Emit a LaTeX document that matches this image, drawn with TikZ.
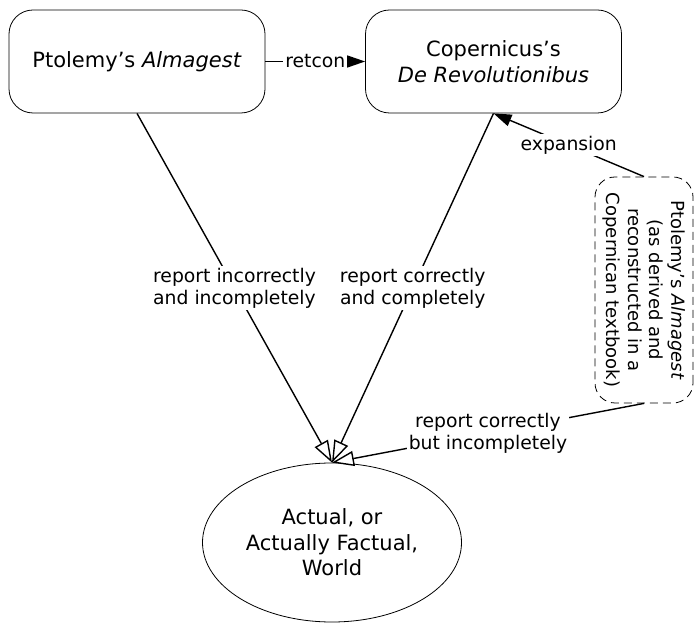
\documentclass[tikz,border=0pt]{standalone}
\usepackage{fontspec}
\setmainfont{DejaVu Sans}
\usetikzlibrary{arrows.meta,shapes.geometric}

\begin{document}
\begin{tikzpicture}[x=1pt,y=1pt,
    box/.style={draw,line width=0.8pt,rounded corners=24pt,minimum width=256pt,minimum height=103pt,align=center,font=\fontsize{21}{25.5}\selectfont},
    lbl/.style={fill=white,inner sep=2pt,align=center,font=\fontsize{18.8}{22}\selectfont},
    rep/.style={line width=1.4pt,-{Triangle[open,length=22pt,width=15pt,fill=white]}},
    ext/.style={line width=1.4pt,-{Triangle[length=18pt,width=12pt]}}]
  \useasboundingbox (0,0) rectangle (695,623);
  \node[box] (alm) at (137,561.5) {Ptolemy's \textit{Almagest}};
  \node[box] (cop) at (493.5,561.5) {Copernicus's\\\textit{De Revolutionibus}};
  \node[draw,line width=0.8pt,dash pattern=on 8pt off 5pt,rounded corners=20pt,rotate=-90,minimum width=226pt,minimum height=98pt,align=center,font=\fontsize{18}{21.5}\selectfont] (ptc) at (644,333)
    {Ptolemy's \textit{Almagest}\\(as derived and\\reconstructed in a\\Copernican textbook)};
  \node[ellipse,draw,line width=0.8pt,inner sep=0pt,minimum width=259pt,minimum height=159pt,align=center,font=\fontsize{21}{25.5}\selectfont] (world) at (332,80.5)
    {Actual, or\\Actually Factual,\\World};
  \draw[ext] (alm.east) -- node[lbl]{retcon} (cop.west);
  \draw[ext] (ptc.west) -- node[lbl]{expansion} (cop.south);
  \draw[rep] (alm.south) -- node[lbl]{report incorrectly\\and incompletely} (world.north);
  \draw[rep] (cop.south) -- node[lbl]{report correctly\\and completely} (world.north);
  \draw[rep] (ptc.east) -- node[lbl]{report correctly\\but incompletely} (world.north);
\end{tikzpicture}
\end{document}
